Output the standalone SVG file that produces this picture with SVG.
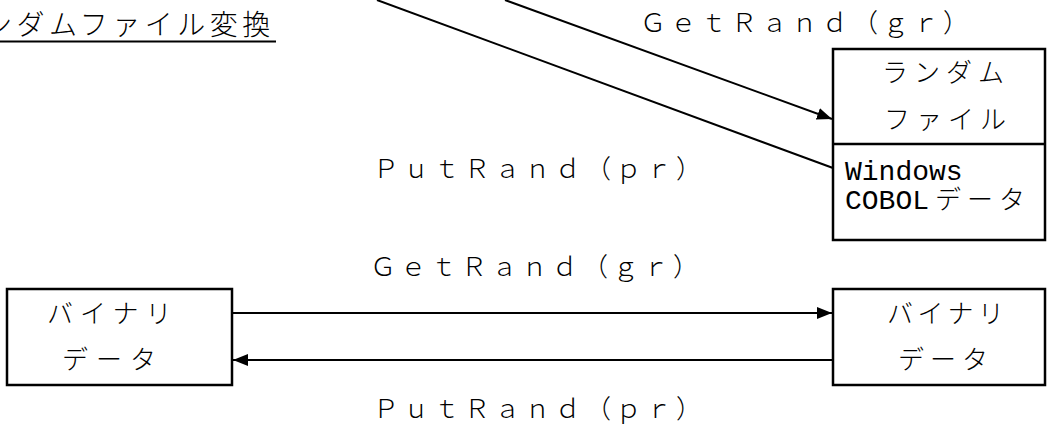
<svg xmlns="http://www.w3.org/2000/svg" width="1048" height="425" viewBox="0 0 1048 425">
  <style>
    .box { fill: #fff; stroke: #000; stroke-width: 2.5; }
    .conn { fill: none; stroke: #000; stroke-width: 2; }
    .jp { font-family: "Noto Sans CJK JP", "Noto Sans", sans-serif; font-size: 26px; fill: #000; font-weight: 300; }
    .fw { font-family: "Noto Sans CJK JP", "Noto Sans", sans-serif; font-size: 26px; fill: #000; font-weight: 300; letter-spacing: 4.3px; }
    .mono { font-family: "Liberation Mono", "DejaVu Sans Mono", monospace; font-size: 28px; fill: #000; }
    .title { font-family: "Noto Sans CJK JP", "Noto Sans", sans-serif; font-size: 28px; fill: #000; font-weight: 300; }
  </style>
  <defs>
    <marker id="arrow" markerUnits="userSpaceOnUse" markerWidth="16" markerHeight="13" refX="15" refY="6" orient="auto">
      <path d="M0,0 L15,6 L0,12 z" fill="#000"/>
    </marker>
  </defs>

  <!-- heading, its first character runs off the left edge -->
  <g id="heading">
    <text class="title" x="-16" y="35" letter-spacing="4.5">ンダムファイル変換</text>
    <line x1="0" y1="41.5" x2="276" y2="41.5" stroke="#000" stroke-width="2"/>
  </g>

  <!-- connectors -->
  <g id="connectors">
    <line class="conn" x1="505" y1="0" x2="832" y2="119" marker-end="url(#arrow)"/>
    <line class="conn" x1="377" y1="0" x2="833" y2="168"/>
    <line class="conn" x1="232" y1="313" x2="832" y2="313" marker-end="url(#arrow)"/>
    <line class="conn" x1="833" y1="360" x2="233" y2="360" marker-end="url(#arrow)"/>
  </g>

  <!-- connector labels -->
  <g id="labels">
    <text class="fw" x="640" y="32">ＧｅｔＲａｎｄ（ｇｒ）</text>
    <text class="fw" x="373" y="178" letter-spacing="3.7">ＰｕｔＲａｎｄ（ｐｒ）</text>
    <text class="fw" x="370" y="276">ＧｅｔＲａｎｄ（ｇｒ）</text>
    <text class="fw" x="373" y="418" letter-spacing="3.7">ＰｕｔＲａｎｄ（ｐｒ）</text>
  </g>

  <!-- random file / Windows COBOL data -->
  <g id="random-file">
    <rect class="box" x="833" y="49" width="212" height="191"/>
    <line x1="833" y1="144" x2="1045" y2="144" stroke="#000" stroke-width="2.5"/>
    <text class="jp" x="882" y="82" letter-spacing="6">ランダム</text>
    <text class="jp" x="884" y="129" letter-spacing="6">ファイル</text>
    <text class="mono" x="845" y="180">Windows</text>
    <text x="845" y="209"><tspan class="mono">COBOL</tspan><tspan class="jp" x="935" letter-spacing="6">データ</tspan></text>
  </g>

  <!-- binary data (left) -->
  <g id="binary-left">
    <rect class="box" x="7" y="289" width="225" height="96"/>
    <text class="jp" x="47" y="323" letter-spacing="7">バイナリ</text>
    <text class="jp" x="62" y="369" letter-spacing="8">データ</text>
  </g>

  <!-- binary data (right) -->
  <g id="binary-right">
    <rect class="box" x="833" y="289" width="212" height="96"/>
    <text class="jp" x="887" y="323" letter-spacing="4.5">バイナリ</text>
    <text class="jp" x="898" y="369" letter-spacing="6">データ</text>
  </g>
</svg>
